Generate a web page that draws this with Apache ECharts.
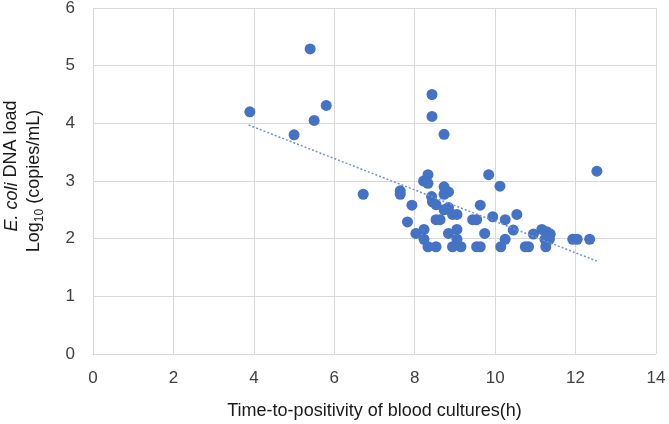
<!DOCTYPE html>
<html><head><meta charset="utf-8">
<script src="https://cdn.jsdelivr.net/npm/echarts@6/dist/echarts.min.js"></script>
<style>html,body{margin:0;padding:0;background:#fff}#c{width:669px;height:424px}</style>
</head><body><div id="c"></div>
<script>
const xTicks = [0,2,4,6,8,10,12,14];
const yTicks = [0,1,2,3,4,5,6];
const ttp = [3.9,5.0,5.4,5.5,5.8,6.72,7.64,7.64,7.82,7.93,8.03,8.23,8.23,8.33,8.53,8.33,8.22,8.33,8.43,8.43,8.73,8.73,8.84,8.73,8.42,8.44,8.53,8.73,8.84,8.94,9.05,8.53,8.63,8.84,9.05,9.05,8.94,9.15,9.44,9.54,9.63,9.84,9.94,9.74,9.54,9.63,10.12,10.14,10.25,10.54,10.45,10.25,10.75,10.83,10.95,11.16,11.28,11.37,11.24,11.35,11.26,11.93,12.04,12.35,12.53];
const dnaLoad = [4.2,3.8,5.29,4.05,4.31,2.77,2.83,2.77,2.29,2.58,2.09,2.16,1.99,1.86,1.86,3.11,3.0,2.96,4.5,4.12,3.81,2.9,2.81,2.77,2.73,2.64,2.59,2.5,2.54,2.42,2.42,2.33,2.33,2.09,2.16,1.99,1.86,1.86,2.33,2.33,2.58,3.11,2.38,2.09,1.86,1.86,2.91,1.86,2.33,2.42,2.15,1.99,1.86,1.86,2.08,2.16,2.12,2.08,1.99,1.99,1.86,1.99,1.99,1.99,3.17];
const trendX = [3.87, 12.57];
const trendY = [3.97, 1.60];

const chart = echarts.init(document.getElementById('c'), null, {renderer:'canvas'});
const font = '"Liberation Sans", Arial, sans-serif';
chart.setOption({
  animation:false,
  grid:{left:93,right:13,top:8,bottom:70,containLabel:false,outerBoundsMode:'none'},
  xAxis:{type:'value',min:0,max:14,interval:2,
    axisLine:{show:false},axisTick:{show:false},
    splitLine:{show:true,lineStyle:{color:'#d9d9d9',width:1}},
    axisLabel:{color:'#404040',fontSize:17,fontFamily:font,margin:16},
    name:'Time-to-positivity of blood cultures(h)',nameLocation:'middle',nameGap:48,
    nameTextStyle:{color:'#1a1a1a',fontSize:18,fontFamily:font}},
  yAxis:{type:'value',min:0,max:6,interval:1,
    axisLine:{show:false},axisTick:{show:false},
    splitLine:{show:true,lineStyle:{color:'#d9d9d9',width:1}},
    axisLabel:{color:'#404040',fontSize:17,fontFamily:font,margin:18},
    name:'{p|}{i|E. coli} {n|DNA load}\n{n|Log}{s|10}{n| (copies/mL)}',
    nameLocation:'middle',nameGap:47,nameRotate:90,
    nameTextStyle:{color:'#1a1a1a',fontSize:18,fontFamily:font,lineHeight:23,align:'center',
      rich:{p:{width:30},
            i:{fontStyle:'italic',fontSize:18,fontFamily:font,color:'#1a1a1a'},
            n:{fontSize:18,fontFamily:font,color:'#1a1a1a'},
            s:{fontSize:12,fontFamily:font,color:'#1a1a1a',verticalAlign:'bottom',padding:[8,0,0,0]}}}},
  series:[
    {type:'scatter',data:ttp.map((x,i)=>[x,dnaLoad[i]]),symbolSize:11,
     itemStyle:{color:'#4472c4',opacity:1}},
    {type:'line',data:trendX.map((x,i)=>[x,trendY[i]]),symbol:'none',
     lineStyle:{color:'#6f94dc',width:1.5,type:[2,2]}}
  ]
});
</script></body></html>
